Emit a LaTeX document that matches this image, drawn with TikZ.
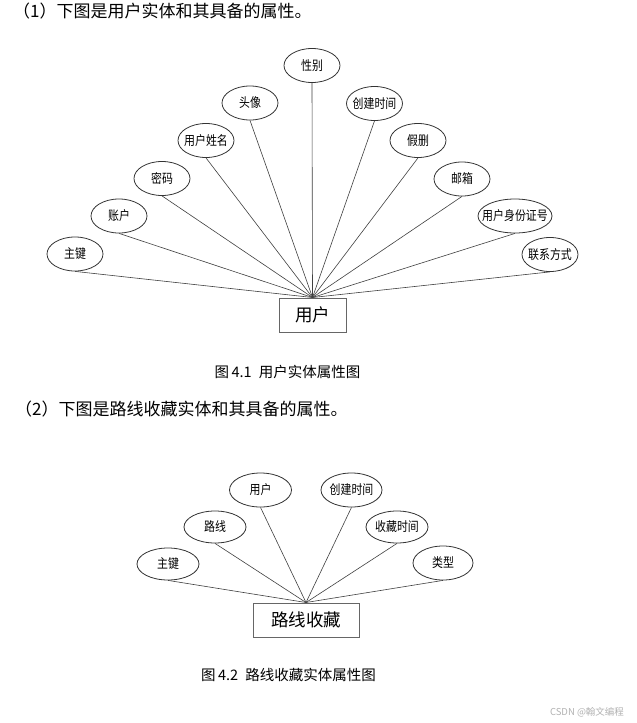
\documentclass[tikz,border=0pt]{standalone}
\usepackage{fontspec}
\usepackage{graphicx}
\setmainfont{Noto Sans CJK SC}
\usetikzlibrary{shapes.geometric}
\newcommand{\attrtext}[1]{\makebox[0pt][c]{\scalebox{0.84}[1]{#1}}}
\begin{document}
\begin{tikzpicture}[x=1pt,y=-1pt,
  attr/.style={ellipse,draw=black!80,line width=0.8pt,inner sep=0pt,minimum width=56pt,minimum height=34pt,font=\fontsize{13}{13}\selectfont},
  ent/.style={rectangle,draw=black!60,line width=1pt,inner sep=0pt,minimum height=34pt,font=\fontsize{17.5}{18}\selectfont},
  link/.style={draw=black!75,line width=0.6pt},
  head/.style={anchor=west,inner sep=0pt,font=\fontsize{17}{18}\selectfont},
  figcap/.style={inner sep=0pt,font=\fontsize{14.5}{16}\selectfont}]
\useasboundingbox (0,0) rectangle (637,723);
\fill[white] (0,0) rectangle (637,723);

\node[head] (h1) at (13,11) {（1）下图是用户实体和其具备的属性。};

% diagram 1
\node[ent,minimum width=67pt] (u) at (312.5,315) {用户};
\node[attr] (a1) at (75,254) {\attrtext{主键}};
\node[attr] (a2) at (119,216) {\attrtext{账户}};
\node[attr] (a3) at (162,178.5) {\attrtext{密码}};
\node[attr] (a4) at (206,140.5) {\attrtext{用户姓名}};
\node[attr] (a5) at (250,103) {\attrtext{头像}};
\node[attr] (a6) at (312,65.5) {\attrtext{性别}};
\node[attr] (a7) at (374.5,103.5) {\attrtext{创建时间}};
\node[attr] (a8) at (418,140.5) {\attrtext{假删}};
\node[attr] (a9) at (462,179) {\attrtext{邮箱}};
\node[attr,minimum width=74pt] (a10) at (515,216) {\attrtext{用户身份证号}};
\node[attr] (a11) at (550,254.5) {\attrtext{联系方式}};
\foreach \i in {1,...,11} \draw[link] (a\i.south) -- (u.north);

\node[figcap] (c1) at (287.5,372) {图\,4.1\enspace 用户实体属性图};

\node[head] (h2) at (15,409) {（2）下图是路线收藏实体和其具备的属性。};

% diagram 2
\node[ent,minimum width=106pt] (r) at (306,620) {路线收藏};
\node[attr,minimum width=62pt,minimum height=32pt] (b1) at (168,564) {\attrtext{主键}};
\node[attr,minimum width=62pt,minimum height=32pt] (b2) at (215,527) {\attrtext{路线}};
\node[attr,minimum width=62pt,minimum height=34pt] (b3) at (260.5,490) {\attrtext{用户}};
\node[attr,minimum width=61pt,minimum height=34pt] (b4) at (351.5,490) {\attrtext{创建时间}};
\node[attr,minimum width=62pt,minimum height=32pt] (b5) at (397,527) {\attrtext{收藏时间}};
\node[attr,minimum width=60pt,minimum height=34pt] (b6) at (443,563) {\attrtext{类型}};
\foreach \i in {1,...,6} \draw[link] (b\i.south) -- (r.north);

\node[figcap] (c2) at (288.5,675) {图\,4.2\enspace 路线收藏实体属性图};

\node[inner sep=0pt,text=black!30,font=\fontsize{9.5}{10}\selectfont] (wm) at (587,712) {CSDN @翰文编程};
\end{tikzpicture}
\end{document}
